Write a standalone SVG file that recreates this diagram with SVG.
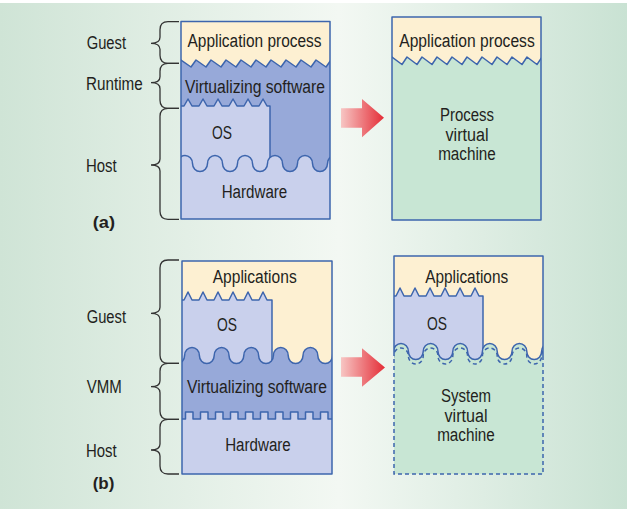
<svg xmlns="http://www.w3.org/2000/svg" width="630" height="509" viewBox="0 0 630 509">
<defs>
<linearGradient id="bg" x1="0" y1="0" x2="1" y2="0">
<stop offset="0" stop-color="#cfe4d6"/>
<stop offset="0.54" stop-color="#f3f8f3"/>
<stop offset="1" stop-color="#c9e2d3"/>
</linearGradient>
<linearGradient id="arr" x1="0" y1="0" x2="1" y2="0">
<stop offset="0" stop-color="#f7c6c4"/>
<stop offset="1" stop-color="#e42d37"/>
</linearGradient>
<clipPath id="cA"><rect x="181" y="21.5" width="149" height="197.5"/></clipPath>
<clipPath id="cB"><rect x="392" y="17" width="149" height="203"/></clipPath>
<clipPath id="cC"><rect x="182" y="261" width="150" height="213"/></clipPath>
<clipPath id="cD"><rect x="394" y="256" width="149" height="218"/></clipPath>
<style>
.t{font-family:"Liberation Sans",Arial,sans-serif;font-size:18px;fill:#231f20;text-anchor:middle}
.l{font-family:"Liberation Sans",Arial,sans-serif;font-size:18px;fill:#231f20}
.b{font-family:"Liberation Sans",Arial,sans-serif;font-size:17px;font-weight:bold;fill:#231f20}
.cream{fill:#fdf0d2}
.dark{fill:#97a9d9}
.light{fill:#c9d0ec}
.green{fill:#c8e6d4}
.ln{fill:none;stroke:#3d65ad;stroke-width:1.5;stroke-linejoin:round}
.dash{fill:none;stroke:#3d65ad;stroke-width:1.5;stroke-dasharray:4 3}
.brace{fill:none;stroke:#333;stroke-width:1.3}
</style>
</defs>
<rect x="0" y="0" width="630" height="509" fill="#ffffff"/>
<rect x="0" y="3" width="627" height="506" fill="url(#bg)"/>

<g id="block-a-left">
<g clip-path="url(#cA)">
<rect class="cream" x="181" y="21.5" width="149" height="197.5"/>
<path class="dark" d="M175 60 L181 60 L191 67 L196 60 L206 67 L211 60 L221 67 L226 60 L236 67 L241 60 L251 67 L256 60 L266 67 L271 60 L281 67 L286 60 L296 67 L301 60 L311 67 L316 60 L326 67 L331 60 L336 60 L336 225 L175 225 Z"/>
<path class="ln" d="M175 60 L181 60 L191 67 L196 60 L206 67 L211 60 L221 67 L226 60 L236 67 L241 60 L251 67 L256 60 L266 67 L271 60 L281 67 L286 60 L296 67 L301 60 L311 67 L316 60 L326 67 L331 60 L336 60"/>
<path class="light" d="M181 106 L184 106 L188 99 L192 106 L199 106 L203 99 L207 106 L214 106 L218 99 L222 106 L229 106 L233 99 L237 106 L244 106 L248 99 L252 106 L259 106 L263 99 L267 106 L270 106 L270 200 L175 200 L175 106 Z"/>
<path class="ln" d="M175 106 L184 106 L188 99 L192 106 L199 106 L203 99 L207 106 L214 106 L218 99 L222 106 L229 106 L233 99 L237 106 L244 106 L248 99 L252 106 L259 106 L263 99 L267 106 L270 106 L270 200"/>
<path class="light" d="M162.5 163.5 A7.5 8 0 0 0 177.5 163.5 A7.5 8 0 0 1 192.5 163.5 A7.5 8 0 0 0 207.5 163.5 A7.5 8 0 0 1 222.5 163.5 A7.5 8 0 0 0 237.5 163.5 A7.5 8 0 0 1 252.5 163.5 A7.5 8 0 0 0 267.5 163.5 A7.5 8 0 0 1 282.5 163.5 A7.5 8 0 0 0 297.5 163.5 A7.5 8 0 0 1 312.5 163.5 A7.5 8 0 0 0 327.5 163.5 A7.5 8 0 0 1 342.5 163.5 L342.5 225 L162.5 225 Z"/>
<path class="ln" d="M162.5 163.5 A7.5 8 0 0 0 177.5 163.5 A7.5 8 0 0 1 192.5 163.5 A7.5 8 0 0 0 207.5 163.5 A7.5 8 0 0 1 222.5 163.5 A7.5 8 0 0 0 237.5 163.5 A7.5 8 0 0 1 252.5 163.5 A7.5 8 0 0 0 267.5 163.5 A7.5 8 0 0 1 282.5 163.5 A7.5 8 0 0 0 297.5 163.5 A7.5 8 0 0 1 312.5 163.5 A7.5 8 0 0 0 327.5 163.5 A7.5 8 0 0 1 342.5 163.5"/>
</g>
<rect class="ln" x="181" y="21.5" width="149" height="197.5"/>
<text class="t" x="254.5" y="46.5" textLength="134" lengthAdjust="spacingAndGlyphs">Application process</text>
<text class="t" x="255" y="92.5" textLength="140" lengthAdjust="spacingAndGlyphs">Virtualizing software</text>
<text class="t" x="222" y="138.5" textLength="20" lengthAdjust="spacingAndGlyphs">OS</text>
<text class="t" x="254.5" y="197.5" textLength="65.6" lengthAdjust="spacingAndGlyphs">Hardware</text>
</g>

<g id="block-a-right">
<g clip-path="url(#cB)">
<rect class="cream" x="392" y="17" width="149" height="203"/>
<path class="green" d="M386 57 L392 57 L402 64.5 L407 57 L417 64.5 L422 57 L432 64.5 L437 57 L447 64.5 L452 57 L462 64.5 L467 57 L477 64.5 L482 57 L492 64.5 L497 57 L507 64.5 L512 57 L522 64.5 L527 57 L537 64.5 L542 57 L547 57 L547 225 L386 225 Z"/>
<path class="ln" d="M386 57 L392 57 L402 64.5 L407 57 L417 64.5 L422 57 L432 64.5 L437 57 L447 64.5 L452 57 L462 64.5 L467 57 L477 64.5 L482 57 L492 64.5 L497 57 L507 64.5 L512 57 L522 64.5 L527 57 L537 64.5 L542 57 L547 57"/>
</g>
<rect class="ln" x="392" y="17" width="149" height="203"/>
<text class="t" x="467" y="47" textLength="135.5" lengthAdjust="spacingAndGlyphs">Application process</text>
<text class="t" x="467" y="120.5" textLength="54" lengthAdjust="spacingAndGlyphs">Process</text>
<text class="t" x="467" y="140.5" textLength="43" lengthAdjust="spacingAndGlyphs">virtual</text>
<text class="t" x="467" y="159.5" textLength="57.7" lengthAdjust="spacingAndGlyphs">machine</text>
</g>

<g id="block-b-left">
<g clip-path="url(#cC)">
<rect class="cream" x="182" y="261" width="150" height="213"/>
<path class="light" d="M176 300 L184 300 L188 292 L192 300 L199 300 L203 292 L207 300 L214 300 L218 292 L222 300 L229 300 L233 292 L237 300 L244 300 L248 292 L252 300 L259 300 L263 292 L267 300 L272 300 L272 400 L176 400 Z"/>
<path class="ln" d="M176 300 L184 300 L188 292 L192 300 L199 300 L203 292 L207 300 L214 300 L218 292 L222 300 L229 300 L233 292 L237 300 L244 300 L248 292 L252 300 L259 300 L263 292 L267 300 L272 300 L272 400"/>
<path class="dark" d="M169.8 355.5 A7.4 8 0 0 0 184.6 355.5 A7.4 8 0 0 1 199.4 355.5 A7.4 8 0 0 0 214.2 355.5 A7.4 8 0 0 1 229 355.5 A7.4 8 0 0 0 243.8 355.5 A7.4 8 0 0 1 258.6 355.5 A7.4 8 0 0 0 273.4 355.5 A7.4 8 0 0 1 288.2 355.5 A7.4 8 0 0 0 303 355.5 A7.4 8 0 0 1 317.8 355.5 A7.4 8 0 0 0 332.6 355.5 A7.4 8 0 0 1 347.4 355.5 L347.4 430 L169.8 430 Z"/>
<path class="ln" d="M169.8 355.5 A7.4 8 0 0 0 184.6 355.5 A7.4 8 0 0 1 199.4 355.5 A7.4 8 0 0 0 214.2 355.5 A7.4 8 0 0 1 229 355.5 A7.4 8 0 0 0 243.8 355.5 A7.4 8 0 0 1 258.6 355.5 A7.4 8 0 0 0 273.4 355.5 A7.4 8 0 0 1 288.2 355.5 A7.4 8 0 0 0 303 355.5 A7.4 8 0 0 1 317.8 355.5 A7.4 8 0 0 0 332.6 355.5 A7.4 8 0 0 1 347.4 355.5"/>
<path class="light" d="M176 419 L185.5 419 L185.5 412 L193 412 L193 419 L200.5 419 L200.5 412 L208 412 L208 419 L215.5 419 L215.5 412 L223 412 L223 419 L230.5 419 L230.5 412 L238 412 L238 419 L245.5 419 L245.5 412 L253 412 L253 419 L260.5 419 L260.5 412 L268 412 L268 419 L275.5 419 L275.5 412 L283 412 L283 419 L290.5 419 L290.5 412 L298 412 L298 419 L305.5 419 L305.5 412 L313 412 L313 419 L320.5 419 L320.5 412 L328 412 L328 419 L338 419 L338 480 L176 480 Z"/>
<path class="ln" d="M176 419 L185.5 419 L185.5 412 L193 412 L193 419 L200.5 419 L200.5 412 L208 412 L208 419 L215.5 419 L215.5 412 L223 412 L223 419 L230.5 419 L230.5 412 L238 412 L238 419 L245.5 419 L245.5 412 L253 412 L253 419 L260.5 419 L260.5 412 L268 412 L268 419 L275.5 419 L275.5 412 L283 412 L283 419 L290.5 419 L290.5 412 L298 412 L298 419 L305.5 419 L305.5 412 L313 412 L313 419 L320.5 419 L320.5 412 L328 412 L328 419 L338 419"/>
</g>
<rect class="ln" x="182" y="261" width="150" height="213"/>
<text class="t" x="254.7" y="282.5" textLength="84" lengthAdjust="spacingAndGlyphs">Applications</text>
<text class="t" x="227" y="330.5" textLength="20" lengthAdjust="spacingAndGlyphs">OS</text>
<text class="t" x="257" y="392.5" textLength="140" lengthAdjust="spacingAndGlyphs">Virtualizing software</text>
<text class="t" x="258" y="450.5" textLength="65.6" lengthAdjust="spacingAndGlyphs">Hardware</text>
</g>

<g id="block-b-right">
<g clip-path="url(#cD)">
<rect class="cream" x="394" y="256" width="149" height="218"/>
<path class="light" d="M388 296 L396 296 L400 288 L404 296 L411 296 L415 288 L419 296 L426 296 L430 288 L434 296 L441 296 L445 288 L449 296 L456 296 L460 288 L464 296 L471 296 L475 288 L479 296 L483 296 L483 400 L388 400 Z"/>
<path class="ln" d="M388 296 L396 296 L400 288 L404 296 L411 296 L415 288 L419 296 L426 296 L430 288 L434 296 L441 296 L445 288 L449 296 L456 296 L460 288 L464 296 L471 296 L475 288 L479 296 L483 296 L483 400"/>
<path class="green" d="M378.8 351.5 A7.4 8 0 0 0 393.6 351.5 A7.4 8 0 0 1 408.4 351.5 A7.4 8 0 0 0 423.2 351.5 A7.4 8 0 0 1 438 351.5 A7.4 8 0 0 0 452.8 351.5 A7.4 8 0 0 1 467.6 351.5 A7.4 8 0 0 0 482.4 351.5 A7.4 8 0 0 1 497.2 351.5 A7.4 8 0 0 0 512 351.5 A7.4 8 0 0 1 526.8 351.5 A7.4 8 0 0 0 541.6 351.5 A7.4 8 0 0 1 556.4 351.5 L556.4 480 L378.8 480 Z"/>
<path class="ln" d="M378.8 351.5 A7.4 8 0 0 0 393.6 351.5 A7.4 8 0 0 1 408.4 351.5 A7.4 8 0 0 0 423.2 351.5 A7.4 8 0 0 1 438 351.5 A7.4 8 0 0 0 452.8 351.5 A7.4 8 0 0 1 467.6 351.5 A7.4 8 0 0 0 482.4 351.5 A7.4 8 0 0 1 497.2 351.5 A7.4 8 0 0 0 512 351.5 A7.4 8 0 0 1 526.8 351.5 A7.4 8 0 0 0 541.6 351.5 A7.4 8 0 0 1 556.4 351.5"/>
<path class="dash" d="M378.8 356 A7.4 8 0 0 0 393.6 356 A7.4 8 0 0 1 408.4 356 A7.4 8 0 0 0 423.2 356 A7.4 8 0 0 1 438 356 A7.4 8 0 0 0 452.8 356 A7.4 8 0 0 1 467.6 356 A7.4 8 0 0 0 482.4 356 A7.4 8 0 0 1 497.2 356 A7.4 8 0 0 0 512 356 A7.4 8 0 0 1 526.8 356 A7.4 8 0 0 0 541.6 356 A7.4 8 0 0 1 556.4 356"/>
</g>
<path class="ln" d="M394 352 L394 256 L543 256 L543 357"/>
<path class="dash" d="M394 352 L394 474 L543 474 L543 357"/>
<text class="t" x="466.7" y="282.5" textLength="83" lengthAdjust="spacingAndGlyphs">Applications</text>
<text class="t" x="437" y="329.5" textLength="20" lengthAdjust="spacingAndGlyphs">OS</text>
<text class="t" x="466" y="402" textLength="50" lengthAdjust="spacingAndGlyphs">System</text>
<text class="t" x="466" y="421.5" textLength="43" lengthAdjust="spacingAndGlyphs">virtual</text>
<text class="t" x="466" y="441" textLength="57.7" lengthAdjust="spacingAndGlyphs">machine</text>
</g>

<g id="braces">
<path class="brace" d="M179 21.7 H168 Q160 21.7 160 29.7 V37.3 Q160 43.3 151 43.3 Q160 43.3 160 49.3 V55.3 Q160 63.3 168 63.3 H179"/>
<path class="brace" d="M179 63.3 H168 Q160 63.3 160 71.3 V76.7 Q160 82.7 151 82.7 Q160 82.7 160 88.7 V100.3 Q160 108.3 168 108.3 H179"/>
<path class="brace" d="M179 108.3 H168 Q160 108.3 160 116.3 V159 Q160 165 151 165 Q160 165 160 171 V211.3 Q160 219.3 168 219.3 H179"/>
<path class="brace" d="M179 260 H168 Q160 260 160 268 V307.3 Q160 313.3 151 313.3 Q160 313.3 160 319.3 V355.3 Q160 363.3 168 363.3 H179"/>
<path class="brace" d="M179 363.3 H168 Q160 363.3 160 371.3 V380.7 Q160 386.7 151 386.7 Q160 386.7 160 392.7 V411.3 Q160 419.3 168 419.3 H179"/>
<path class="brace" d="M179 419.3 H168 Q160 419.3 160 427.3 V444 Q160 450 151 450 Q160 450 160 456 V466 Q160 474 168 474 H179"/>
</g>

<g id="labels">
<text class="l" x="86.7" y="48.8" textLength="39.3" lengthAdjust="spacingAndGlyphs">Guest</text>
<text class="l" x="86" y="89.8" textLength="56.7" lengthAdjust="spacingAndGlyphs">Runtime</text>
<text class="l" x="86" y="172.2" textLength="30.7" lengthAdjust="spacingAndGlyphs">Host</text>
<text class="b" x="92.7" y="228.4" textLength="22.3" lengthAdjust="spacingAndGlyphs">(a)</text>
<text class="l" x="86.7" y="323.2" textLength="39.3" lengthAdjust="spacingAndGlyphs">Guest</text>
<text class="l" x="86.7" y="393.2" textLength="35" lengthAdjust="spacingAndGlyphs">VMM</text>
<text class="l" x="86" y="456.5" textLength="30.7" lengthAdjust="spacingAndGlyphs">Host</text>
<text class="b" x="92.7" y="488.5" textLength="21.7" lengthAdjust="spacingAndGlyphs">(b)</text>
</g>

<g id="connectors">
<polygon fill="url(#arr)" points="341,108.3 362,108.3 362,99 384,117.7 362,137.3 362,127.7 341,127.7"/>
<polygon fill="url(#arr)" points="341,357.3 362,357.3 362,348.3 385,367.5 362,386.7 362,376.7 341,376.7"/>
</g>
</svg>
